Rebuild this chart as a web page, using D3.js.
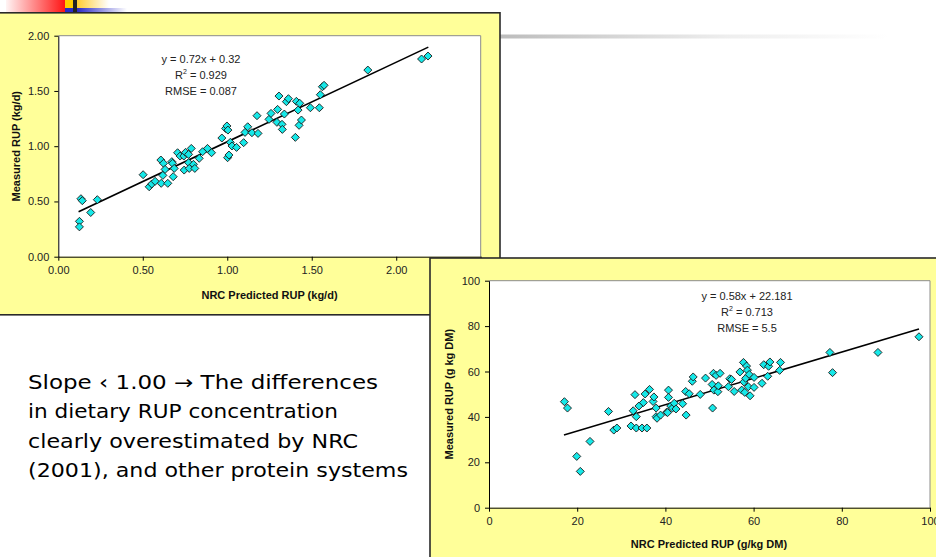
<!DOCTYPE html>
<html>
<head>
<meta charset="utf-8">
<script src="https://cdn.jsdelivr.net/npm/d3@7"></script>
<style>
  body { margin: 0; background: #fff; }
  svg { display: block; }
</style>
</head>
<body>
<script>
// chart 1 : kg/d
var rup1X = [0.125,0.125,0.134,0.142,0.192,0.231,0.502,0.538,0.553,0.573,0.607,0.609,0.623,0.619,0.632,0.648,0.672,0.676,0.680,0.686,
  0.706,0.721,0.743,0.745,0.753,0.771,0.771,0.775,0.787,0.800,0.808,0.834,0.854,0.883,0.907,0.968,0.990,0.998,1.004,1.002,
  1.010,1.018,1.028,1.055,1.097,1.105,1.121,1.146,1.176,1.182,1.247,1.259,1.294,1.298,1.306,1.324,1.326,1.338,1.350,1.362,
  1.403,1.409,1.419,1.429,1.425,1.439,1.492,1.545,1.551,1.563,1.573,1.832,2.150,2.188];
var rup1Y = [0.32,0.27,0.525,0.507,0.40,0.516,0.742,0.633,0.658,0.682,0.875,0.664,0.845,0.736,0.790,0.664,0.860,0.845,0.724,0.799,
  0.941,0.911,0.911,0.784,0.944,0.926,0.851,0.799,0.980,0.836,0.799,0.890,0.950,0.980,0.941,1.074,1.161,1.183,1.146,0.896,
  0.920,1.035,1.002,0.989,1.032,1.125,1.176,1.122,1.276,1.116,1.243,1.297,1.216,1.333,1.454,1.198,1.152,1.291,1.403,1.430,
  1.080,1.406,1.327,1.388,1.189,1.237,1.348,1.348,1.466,1.538,1.551,1.689,1.789,1.816];
var ticks1 = [0, 0.5, 1.0, 1.5, 2.0, 2.5];
var ticks1Y = [0, 0.5, 1.0, 1.5, 2.0];
var fit1 = {slope: 0.72, intercept: 0.32, from: 0.12, to: 2.19};
var eq1 = ["y = 0.72x + 0.32", "R|2| = 0.929", "RMSE = 0.087"];

// chart 2 : g/kg DM
var rup2X = [17.1,17.8,19.9,20.7,22.9,27.1,28.3,29.0,32.2,32.7,33.1,33.4,33.4,34.0,34.7,35.0,35.4,35.8,36.4,37.2,
  37.4,37.9,37.9,38.1,38.9,40.3,40.5,40.7,40.7,41.2,41.6,42.0,42.4,43.9,44.6,44.7,45.4,46.1,46.3,47.9,
  49.1,50.6,50.7,50.9,51.0,51.5,51.9,52.0,52.4,54.3,54.6,55.0,55.6,56.9,57.3,57.7,57.8,58.0,58.2,58.4,
  58.6,58.8,59.0,59.2,60.1,60.1,61.9,62.3,63.2,63.4,63.7,65.9,66.1,77.3,77.9,88.2,97.5];
var rup2Y = [46.7,43.9,22.6,16.0,29.2,42.4,34.2,35.1,36.0,42.7,49.8,40.1,35.1,44.8,35.1,46.3,50.1,35.1,52.1,46.8,
  48.8,43.9,40.1,39.4,40.8,42.1,41.9,51.8,48.6,44.8,43.9,46.0,43.5,45.8,51.2,40.8,50.2,55.7,57.6,49.9,
  57.1,54.3,43.9,59.2,51.8,58.3,51.1,53.7,59.2,53.3,56.8,56.5,51.2,59.8,51.8,64.0,55.4,50.8,57.0,62.4,
  60.6,53.3,58.7,49.3,53.0,57.4,54.8,63.0,57.9,62.3,64.2,60.5,64.0,68.4,59.5,68.4,75.3];
var ticks2 = [0, 20, 40, 60, 80, 100];
var fit2 = {slope: 0.58, intercept: 22.181, from: 17, to: 97.5};
var eq2 = ["y = 0.58x + 22.181", "R|2| = 0.713", "RMSE = 5.5"];

var noteLines = ["Slope \u2039 1.00 \u2192 The differences", "in dietary RUP concentration",
  "clearly overestimated by NRC", "(2001), and other protein systems"];

var W = 936, H = 557;
var svg = d3.select("body").append("svg").attr("width", W).attr("height", H);
var defs = svg.append("defs");

function grad(id, stops) {
  var g = defs.append("linearGradient").attr("id", id);
  stops.forEach(function(s) {
    g.append("stop").attr("offset", s[0]).attr("stop-color", s[1]);
  });
}
grad("gRed", [["0%", "#fff4f4"], ["100%", "#ff1010"]]);
grad("gYel", [["0%", "#ffcc33"], ["100%", "#ffffff"]]);
grad("gBlu", [["0%", "#2a2ac8"], ["100%", "#ffffff"]]);
grad("gGray", [["0%", "#b8b8b8"], ["60%", "#eeeeee"], ["100%", "#ffffff"]]);

// slide decoration
svg.append("rect").attr("x", 6).attr("y", 0).attr("width", 60).attr("height", 12).attr("fill", "url(#gRed)");
svg.append("rect").attr("x", 65).attr("y", 0).attr("width", 8).attr("height", 8).attr("fill", "#ffcc00");
svg.append("rect").attr("x", 65).attr("y", 8).attr("width", 8).attr("height", 4).attr("fill", "#2a2ac8");
svg.append("rect").attr("x", 77).attr("y", 0).attr("width", 32).attr("height", 8).attr("fill", "url(#gYel)");
svg.append("rect").attr("x", 77).attr("y", 8).attr("width", 50).attr("height", 4).attr("fill", "url(#gBlu)");
svg.append("rect").attr("x", 73).attr("y", 0).attr("width", 4).attr("height", 12).attr("fill", "#222");
svg.append("rect").attr("x", 480).attr("y", 34.5).attr("width", 410).attr("height", 4).attr("fill", "url(#gGray)");

var diamond = "M0,-4L4,0L0,4L-4,0Z";

function scatter(cfg) {
  var g = svg.append("g");
  g.append("rect").attr("x", cfg.box[0]).attr("y", cfg.box[1])
    .attr("width", cfg.box[2]).attr("height", cfg.box[3])
    .attr("fill", "#ffff99").attr("stroke", "#2a2a2a").attr("stroke-width", 1.6);

  var p = cfg.plot; // left, top, right, bottom
  var x = d3.scaleLinear().domain(cfg.xDomain).range([p[0], p[2]]);
  var y = d3.scaleLinear().domain(cfg.yDomain).range([p[3], p[1]]);

  g.append("rect").attr("x", p[0]).attr("y", p[1]).attr("width", p[2] - p[0]).attr("height", p[3] - p[1])
    .attr("fill", "#fff");
  g.append("path").attr("d", "M" + p[0] + "," + p[1] + "H" + p[2] + "V" + p[3])
    .attr("fill", "none").attr("stroke", "#8c8c8c").attr("stroke-width", 1);

  var xa = g.append("g").attr("transform", "translate(0," + p[3] + ")")
    .call(d3.axisBottom(x).tickValues(cfg.xTicks).tickFormat(cfg.fmt).tickSize(4).tickPadding(6).tickSizeOuter(0));
  var ya = g.append("g").attr("transform", "translate(" + p[0] + ",0)")
    .call(d3.axisLeft(y).tickValues(cfg.yTicks).tickFormat(cfg.fmt).tickSize(4).tickPadding(5).tickSizeOuter(0));
  [xa, ya].forEach(function(a) {
    a.attr("font-family", "Liberation Sans, Arial, sans-serif").attr("font-size", 11);
    a.selectAll("text").attr("fill", "#222");
    a.selectAll("line, path").attr("stroke", "#000");
  });

  // trendline
  var f = cfg.fit;
  var line = d3.line().x(function(d) { return x(d); })
    .y(function(d) { return y(f.slope * d + f.intercept); });
  g.append("path").datum([f.from, f.to]).attr("d", line)
    .attr("fill", "none").attr("stroke", "#000").attr("stroke-width", 1.6);

  var pts = cfg.xs.map(function(v, i) { return [v, cfg.ys[i]]; });
  g.selectAll(".pt").data(pts).enter().append("path")
    .attr("class", "pt").attr("d", diamond)
    .attr("transform", function(d) { return "translate(" + x(d[0]) + "," + y(d[1]) + ")"; })
    .attr("fill", "#16e8e8").attr("stroke", "#1a1a1a").attr("stroke-width", 0.9);

  // equation
  cfg.eq.forEach(function(s, i) {
    var t = g.append("text").attr("x", cfg.eqPos[0]).attr("y", cfg.eqPos[1] + i * 16)
      .attr("text-anchor", "middle").attr("font-family", "Liberation Sans, Arial, sans-serif")
      .attr("font-size", 11).attr("fill", "#222");
    var parts = s.split("|");
    if (parts.length === 1) { t.text(s); return; }
    t.append("tspan").text(parts[0]);
    t.append("tspan").text(parts[1]).attr("font-size", 7).attr("dy", -5);
    t.append("tspan").text(parts[2]).attr("dy", 5);
  });

  // axis titles
  g.append("text").attr("x", (p[0] + p[2]) / 2 + cfg.xTitleDx).attr("y", cfg.xTitleY)
    .attr("text-anchor", "middle").attr("font-family", "Liberation Sans, Arial, sans-serif")
    .attr("font-size", 11).attr("font-weight", "bold").attr("fill", "#111").text(cfg.xTitle);
  g.append("text").attr("transform", "translate(" + cfg.yTitleX + "," + (p[1] + p[3]) / 2 + ") rotate(-90)")
    .attr("text-anchor", "middle").attr("font-family", "Liberation Sans, Arial, sans-serif")
    .attr("font-size", 11).attr("font-weight", "bold").attr("fill", "#111").text(cfg.yTitle);
}

scatter({
  box: [-5, 12.8, 505, 302], plot: [58.3, 35.7, 480.7, 256.7],
  xDomain: [0, 2.5], yDomain: [0, 2], xTicks: ticks1, yTicks: ticks1Y, fmt: d3.format(".2f"),
  xs: rup1X, ys: rup1Y, fit: fit1, eq: eq1, eqPos: [201, 63],
  xTitle: "NRC Predicted RUP (kg/d)", xTitleDx: 0, xTitleY: 299,
  yTitle: "Measured RUP (kg/d)", yTitleX: 20
});

scatter({
  box: [430, 258, 520, 320], plot: [489, 280.7, 930, 507.7],
  xDomain: [0, 100], yDomain: [0, 100], xTicks: ticks2, yTicks: ticks2, fmt: d3.format("d"),
  xs: rup2X, ys: rup2Y, fit: fit2, eq: eq2, eqPos: [747, 300],
  xTitle: "NRC Predicted RUP (g/kg DM)", xTitleDx: -0.5, xTitleY: 548,
  yTitle: "Measured RUP (g kg DM)", yTitleX: 453
});

// note text
var noteWidths = [350, 310, 330, 380];
svg.append("g").selectAll("text").data(noteLines).enter().append("text")
  .attr("x", 28).attr("y", function(d, i) { return 389 + i * 29.3; })
  .attr("font-family", "Comic Sans MS, DejaVu Sans, sans-serif").attr("font-size", 19)
  .attr("fill", "#000")
  .attr("textLength", function(d, i) { return noteWidths[i]; })
  .attr("lengthAdjust", "spacingAndGlyphs")
  .text(function(d) { return d; });
</script>
</body>
</html>
